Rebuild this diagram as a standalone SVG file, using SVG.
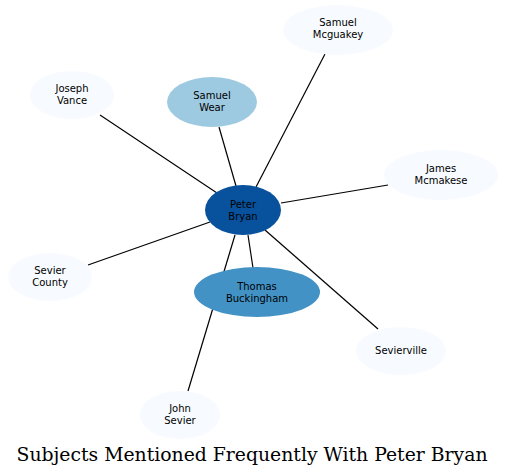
<svg xmlns="http://www.w3.org/2000/svg" width="505" height="476" viewBox="0 0 505 476">
<style>
.e{stroke:#000;stroke-width:1.2;fill:none}
.n text{font-family:"DejaVu Sans",sans-serif;font-size:10px;text-anchor:middle;fill:#000}
.l{fill:#f7fbff}
.t{font-family:"DejaVu Serif",serif;font-size:18px;text-anchor:middle;fill:#000}
</style>
<rect width="505" height="476" fill="#fff"/>
<g id="connectors">
<line class="e" x1="236" y1="186" x2="219" y2="127"/>
<line class="e" x1="256" y1="187" x2="325" y2="54"/>
<line class="e" x1="217" y1="193" x2="100" y2="115"/>
<line class="e" x1="281" y1="203" x2="388" y2="185"/>
<line class="e" x1="210" y1="222" x2="88" y2="265"/>
<line class="e" x1="248" y1="235" x2="253" y2="268"/>
<line class="e" x1="235" y1="235" x2="188" y2="391"/>
<line class="e" x1="265" y1="230" x2="378" y2="329"/>
</g>
<g id="peter-bryan" class="n"><ellipse cx="243" cy="210" rx="38" ry="25" fill="#08519c"/><text x="243" y="208">Peter</text><text x="243" y="220">Bryan</text></g>
<g id="samuel-wear" class="n"><ellipse cx="212" cy="102" rx="45" ry="25" fill="#9ecae1"/><text x="212" y="99">Samuel</text><text x="212" y="111">Wear</text></g>
<g id="thomas-buckingham" class="n"><ellipse cx="257" cy="292" rx="63" ry="25" fill="#4292c6"/><text x="257" y="290">Thomas</text><text x="257" y="302">Buckingham</text></g>
<g id="samuel-mcguakey" class="n"><ellipse class="l" cx="338" cy="30" rx="55" ry="25"/><text x="338" y="26">Samuel</text><text x="338" y="38">Mcguakey</text></g>
<g id="joseph-vance" class="n"><ellipse class="l" cx="72" cy="95" rx="42" ry="24"/><text x="72" y="92">Joseph</text><text x="72" y="104">Vance</text></g>
<g id="james-mcmakese" class="n"><ellipse class="l" cx="441" cy="175" rx="57" ry="25"/><text x="441" y="172">James</text><text x="441" y="184">Mcmakese</text></g>
<g id="sevier-county" class="n"><ellipse class="l" cx="50" cy="277" rx="42" ry="24"/><text x="50" y="274">Sevier</text><text x="50" y="286">County</text></g>
<g id="sevierville" class="n"><ellipse class="l" cx="401" cy="351" rx="45" ry="24"/><text x="401" y="354">Sevierville</text></g>
<g id="john-sevier" class="n"><ellipse class="l" cx="180" cy="415" rx="40" ry="24"/><text x="180" y="412">John</text><text x="180" y="424">Sevier</text></g>
<text class="t" x="252" y="461" textLength="471" lengthAdjust="spacingAndGlyphs">Subjects Mentioned Frequently With Peter Bryan</text>
</svg>
